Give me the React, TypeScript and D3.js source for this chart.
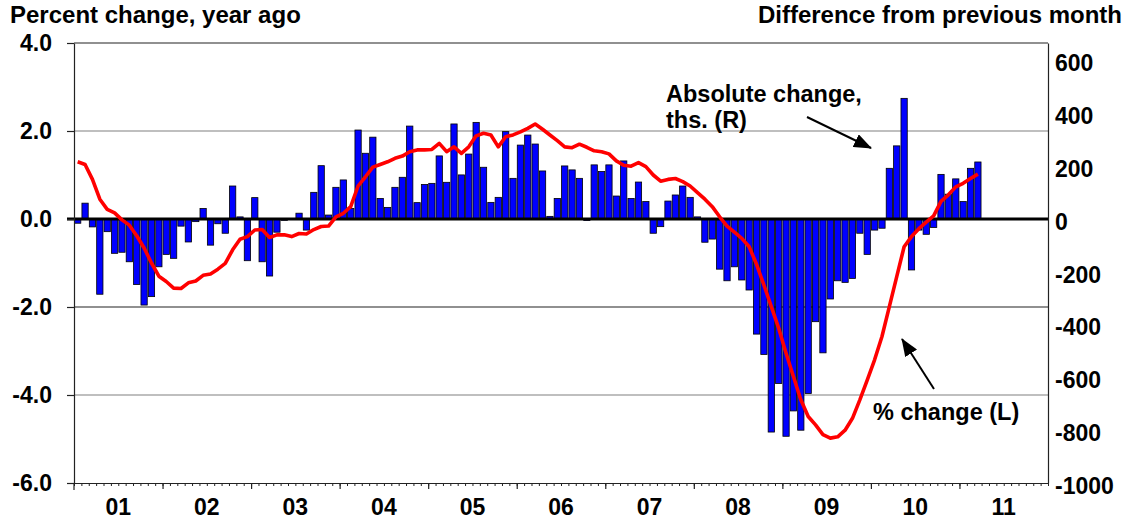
import React, { useEffect, useRef } from "react";
import * as d3 from "d3";

// years on the x axis, Jan 2001 .. Dec 2011
const yearLabels = ["01", "02", "03", "04", "05", "06", "07", "08", "09", "10", "11"];

// payroll change, ths., Jan 2001 .. Mar 2011 (right axis)
const absChange = [
  -16, 60, -30, -285, -48, -130, -126, -162, -248, -326, -294, -181,
  -134, -149, -27, -87, -10, 40, -99, -18, -54, 125, 8, -158,
  81, -162, -216, -50, -5, -2, 22, -42, 101, 202, 15, 120,
  148, 40, 337, 249, 310, 78, 44, 120, 158, 352, 62, 131,
  135, 239, 139, 360, 167, 246, 366, 196, 63, 82, 331, 154,
  280, 318, 284, 182, 10, 78, 201, 186, 154, -6, 205, 180,
  205, 87, 220, 78, 140, 66, -54, -29, 68, 91, 125, 82,
  8, -88, -76, -190, -234, -181, -231, -269, -436, -513, -807, -623,
  -823, -727, -800, -661, -389, -507, -303, -234, -240, -225, -54, -134,
  -42, -35, 192, 277, 457, -193, -42, -58, -32, 169, 94, 152,
  66, 192, 216,
];

// percent change from a year ago (left axis)
const pctChange = [
  1.3, 1.24, 0.9, 0.45, 0.22, 0.14, -0.02, -0.14, -0.38, -0.66, -1.0, -1.3,
  -1.42, -1.57, -1.58, -1.45, -1.41, -1.28, -1.25, -1.14, -1.01, -0.7, -0.46, -0.4,
  -0.25, -0.24, -0.42, -0.36, -0.36, -0.4, -0.33, -0.34, -0.24, -0.17, -0.16, 0.05,
  0.13, 0.28, 0.75, 0.96, 1.18, 1.24, 1.3, 1.38, 1.43, 1.53, 1.57, 1.57,
  1.58, 1.72, 1.53, 1.64, 1.49, 1.64, 1.89, 1.95, 1.91, 1.64, 1.87, 1.91,
  1.98, 2.06, 2.16, 2.04, 1.91, 1.78, 1.64, 1.62, 1.7, 1.63, 1.55, 1.53,
  1.48, 1.32, 1.22, 1.2, 1.28, 1.19, 1.0, 0.86, 0.9, 0.92, 0.85, 0.75,
  0.6, 0.45, 0.28, 0.05, -0.16, -0.3, -0.44, -0.63, -1.03, -1.5, -1.99, -2.48,
  -3.05, -3.58, -4.11, -4.49, -4.68, -4.9, -4.98, -4.95, -4.8, -4.53, -4.11, -3.66,
  -3.2, -2.67, -1.99, -1.31, -0.63, -0.4, -0.22, -0.07, 0.07, 0.4, 0.55, 0.73,
  0.81, 0.92, 1.02,
];

const leftTicks = [-6, -4, -2, 0, 2, 4];
const rightTicks = [-1000, -800, -600, -400, -200, 0, 200, 400, 600];
const gridLines = [-4, -2, 2];

const W = 1129;
const H = 520;
const margin = { top: 43, right: 81, bottom: 37, left: 74 };
const FONT = "'Liberation Sans', Arial, sans-serif";

const App = () => {
  const ref = useRef<SVGSVGElement>(null);

  useEffect(() => {
    const svg = d3.select(ref.current);
    svg.selectAll("*").remove();

    const x0 = margin.left;
    const x1 = W - margin.right;
    const y0 = margin.top;
    const y1 = H - margin.bottom;

    const months = d3.range(yearLabels.length * 12);
    const x = d3.scaleBand<number>().domain(months).range([x0, x1]).paddingInner(0.15).paddingOuter(0.075);
    const xm = d3.scaleLinear().domain([0, months.length]).range([x0, x1]);
    const xYear = d3.scaleBand<string>().domain(yearLabels).range([x0, x1]);
    const yL = d3.scaleLinear().domain([-6, 4]).range([y1, y0]);
    // right axis shares the zero line with the left one
    const yTmp = d3.scaleLinear().domain([-1000, 0]).range([y1, yL(0)]);
    const yR = d3.scaleLinear().domain([-1000, yTmp.invert(y0)]).range([y1, y0]);

    // gridlines
    svg.append("g")
      .selectAll("line")
      .data(gridLines)
      .enter()
      .append("line")
      .attr("x1", x0).attr("x2", x1)
      .attr("y1", (d) => yL(d)).attr("y2", (d) => yL(d))
      .attr("stroke", (d) => (d === -2 ? "#222" : "#808080"))
      .attr("stroke-width", 1.2);

    // top border
    svg.append("line").attr("x1", x0).attr("x2", x1).attr("y1", y0).attr("y2", y0)
      .attr("stroke", "#222").attr("stroke-width", 1.2);

    // bars
    svg.append("g")
      .selectAll("rect")
      .data(absChange)
      .enter()
      .append("rect")
      .attr("x", (d, i) => x(i)!)
      .attr("width", x.bandwidth())
      .attr("y", (d) => Math.min(yR(d), yR(0)))
      .attr("height", (d) => Math.abs(yR(d) - yR(0)))
      .attr("fill", "#0000FF")
      .attr("stroke", "#000")
      .attr("stroke-width", 0.8);

    // zero line
    svg.append("line").attr("x1", x0 - 7).attr("x2", x1).attr("y1", yL(0)).attr("y2", yL(0))
      .attr("stroke", "#000").attr("stroke-width", 3.2);

    // percent change line
    const line = d3.line<number>()
      .x((d, i) => x(i)! + x.bandwidth() / 2)
      .y((d) => yL(d));
    svg.append("path")
      .datum(pctChange)
      .attr("d", line)
      .attr("fill", "none")
      .attr("stroke", "#FF0000")
      .attr("stroke-width", 3.6)
      .attr("stroke-linejoin", "round");

    // left axis
    const gl = svg.append("g")
      .attr("transform", `translate(${x0},0)`)
      .call(d3.axisLeft(yL).tickValues(leftTicks).tickSize(7).tickSizeOuter(0).tickPadding(15)
        .tickFormat((d) => (+d).toFixed(1)));
    gl.attr("font-size", 23).attr("font-family", FONT).attr("font-weight", "bold");
    gl.selectAll("path").attr("stroke", "#222").attr("stroke-width", 1.2);
    gl.selectAll("line").attr("stroke", "#222").attr("stroke-width", 1.2);
    gl.selectAll("text").attr("fill", "#000");
    svg.append("line").attr("x1", x0).attr("x2", x0).attr("y1", y1).attr("y2", y1 + 7)
      .attr("stroke", "#222").attr("stroke-width", 1.2);

    // right axis
    const gr = svg.append("g")
      .attr("transform", `translate(${x1},0)`)
      .call(d3.axisRight(yR).tickValues(rightTicks).tickSize(0).tickSizeOuter(0).tickPadding(7)
        .tickFormat((d) => String(d)));
    gr.attr("font-size", 23).attr("font-family", FONT).attr("font-weight", "bold");
    gr.selectAll("path").attr("stroke", "#222").attr("stroke-width", 1.2);
    gr.selectAll("text").attr("fill", "#000").attr("dy", "0.45em");

    // bottom axis: monthly minor ticks, yearly major ticks
    const gb = svg.append("g")
      .attr("transform", `translate(0,${y1})`)
      .call(d3.axisBottom(xm).tickValues(d3.range(0, months.length + 1)).tickSize(3).tickSizeOuter(0).tickFormat(() => ""));
    gb.selectAll("path").attr("stroke", "#222").attr("stroke-width", 1.2);
    gb.selectAll("line").attr("stroke", "#222").attr("stroke-width", 1);
    const gy = svg.append("g")
      .attr("transform", `translate(0,${y1})`)
      .call(d3.axisBottom(xm).tickValues(d3.range(12, months.length, 12)).tickSize(6).tickSizeOuter(0).tickFormat(() => ""));
    gy.select("path").remove();
    gy.selectAll("line").attr("stroke", "#222").attr("stroke-width", 1.2);

    svg.append("g")
      .selectAll("text")
      .data(yearLabels)
      .enter()
      .append("text")
      .attr("x", (d) => xYear(d)! + xYear.bandwidth() / 2)
      .attr("y", 515)
      .attr("text-anchor", "middle")
      .attr("font-family", FONT)
      .attr("font-weight", "bold")
      .attr("font-size", 23)
      .text((d) => d);

    // titles and notes
    const txt = (t: string, tx: number, ty: number, anchor = "start", size = 23.5) =>
      svg.append("text")
        .attr("x", tx).attr("y", ty)
        .attr("text-anchor", anchor)
        .attr("font-family", FONT)
        .attr("font-weight", "bold")
        .attr("font-size", size)
        .attr("fill", "#000")
        .text(t);

    txt("Percent change, year ago", 10, 23, "start", 24);
    txt("Difference from previous month", 1122, 23, "end", 24);
    txt("Absolute change,", 666, 102);
    txt("ths. (R)", 666, 128);
    txt("% change (L)", 873, 420);

    // arrows
    svg.append("defs")
      .append("marker")
      .attr("id", "arrowHead")
      .attr("markerUnits", "userSpaceOnUse")
      .attr("markerWidth", 18)
      .attr("markerHeight", 14)
      .attr("refX", 17)
      .attr("refY", 7)
      .attr("orient", "auto")
      .append("path")
      .attr("d", "M0,0 L18,7 L0,14 Z")
      .attr("fill", "#000");

    const arrows = [
      [807, 117, 871, 148],
      [934, 389, 902, 339],
    ];
    svg.append("g")
      .selectAll("line")
      .data(arrows)
      .enter()
      .append("line")
      .attr("x1", (d) => d[0]).attr("y1", (d) => d[1])
      .attr("x2", (d) => d[2]).attr("y2", (d) => d[3])
      .attr("stroke", "#000")
      .attr("stroke-width", 2)
      .attr("marker-end", "url(#arrowHead)");
  }, []);

  return (
    <svg
      ref={ref}
      width={W}
      height={H}
      style={{ position: "absolute", left: 0, top: 0, background: "#fff" }}
    ></svg>
  );
};

export default App;
